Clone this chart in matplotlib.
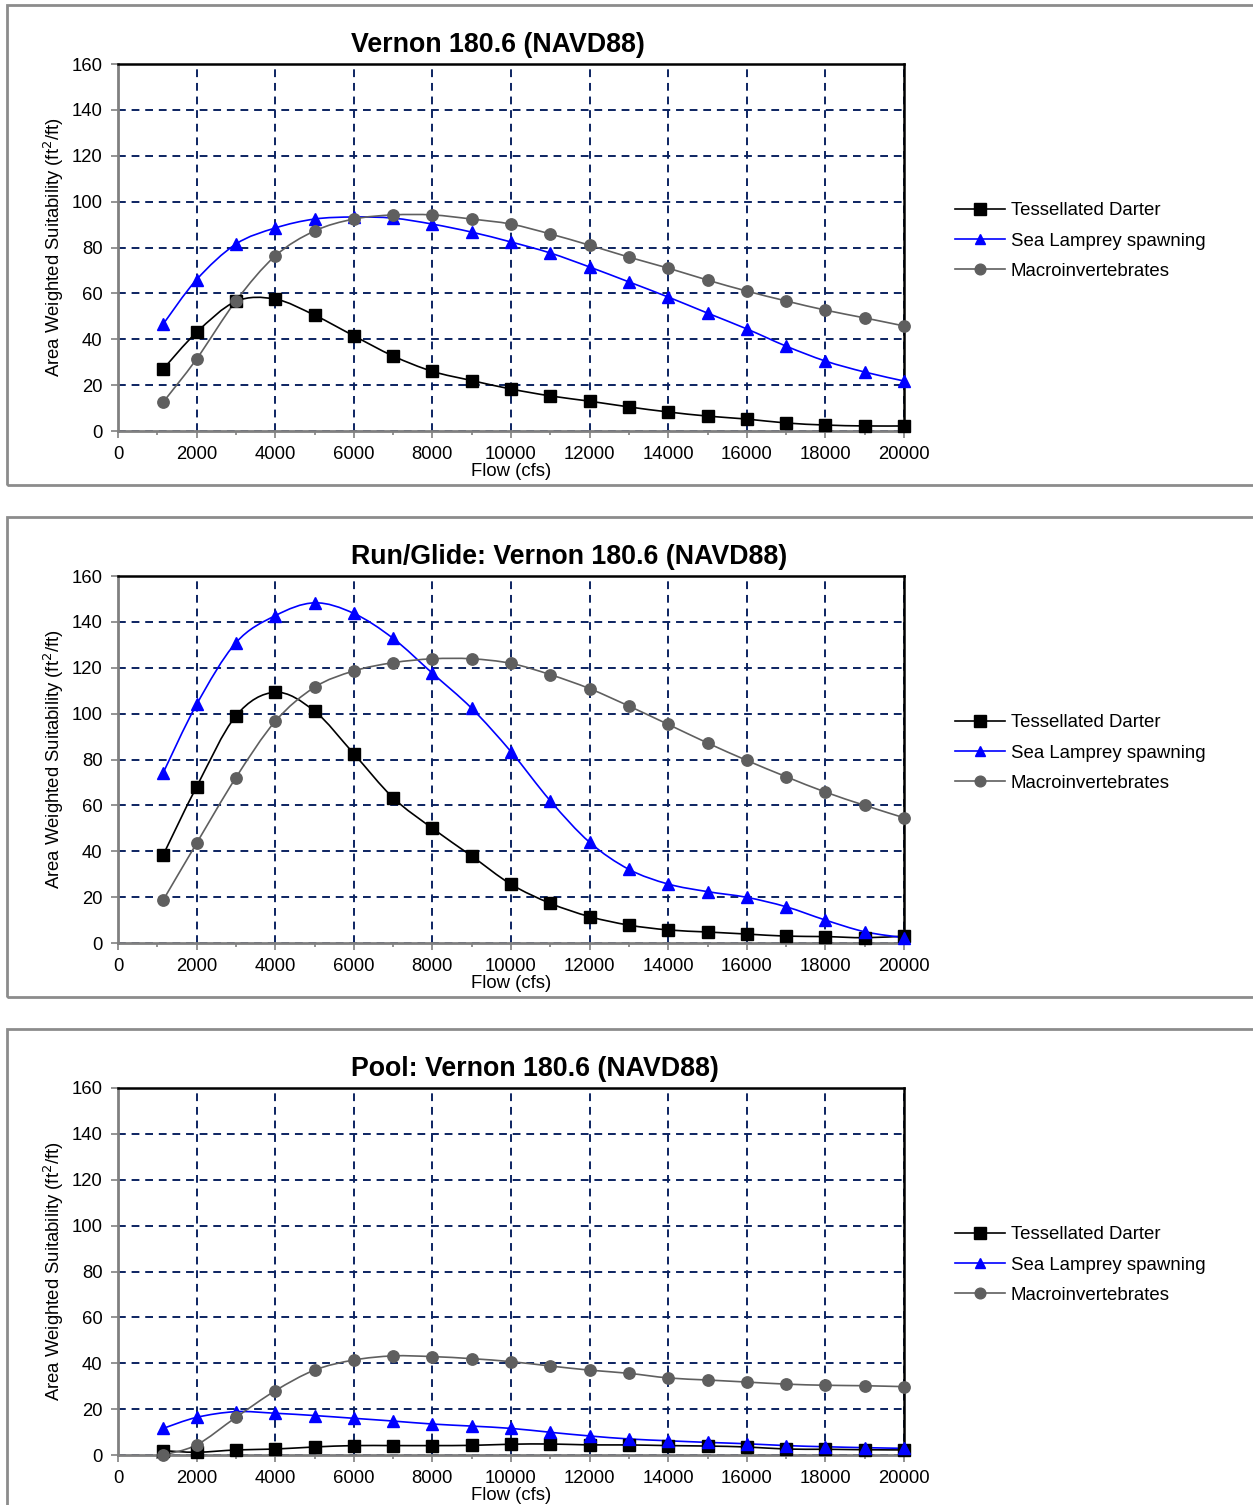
import numpy as np
import matplotlib
matplotlib.use("Agg")
import matplotlib.pyplot as plt
from matplotlib.path import Path
from matplotlib.patches import PathPatch, Rectangle
from matplotlib.lines import Line2D

plt.rcParams['font.family'] = ['Liberation Sans', 'DejaVu Sans']

flow = [1150, 2000, 3000, 4000, 5000, 6000, 7000, 8000, 9000, 10000,
        11000, 12000, 13000, 14000, 15000, 16000, 17000, 18000, 19000, 20000]

titles = ["Vernon 180.6 (NAVD88)",
          "Run/Glide: Vernon 180.6 (NAVD88)",
          "Pool: Vernon 180.6 (NAVD88)"]

series_names = ["Tessellated Darter", "Sea Lamprey spawning", "Macroinvertebrates"]

# Panel 1: Vernon 180.6
darter_1 = [27.0, 43.0, 56.5, 57.5, 50.5, 41.5, 32.7, 26.0, 22.0, 18.3,
            15.3, 13.0, 10.5, 8.3, 6.5, 5.2, 3.5, 2.6, 2.2, 2.2]
lamprey_1 = [46.6, 66.0, 81.5, 88.5, 92.4, 93.3, 92.8, 90.2, 86.7, 82.4,
             77.6, 71.5, 65.0, 58.4, 51.4, 44.5, 37.0, 30.5, 25.7, 21.8]
macro_1 = [12.6, 31.4, 56.7, 76.3, 87.2, 92.4, 94.2, 94.2, 92.4, 90.2,
           85.9, 81.0, 75.8, 71.0, 65.8, 61.0, 56.7, 52.7, 49.3, 45.8]

# Panel 2: Run/Glide
darter_2 = [38.4, 68.1, 99.0, 109.3, 101.1, 82.5, 63.3, 50.0, 37.9, 25.6,
            17.3, 11.5, 7.8, 5.7, 4.8, 3.9, 3.0, 2.8, 2.3, 3.0]
lamprey_2 = [74.2, 104.0, 130.9, 142.7, 148.3, 143.7, 132.8, 117.6, 102.3, 83.4,
             62.0, 43.9, 32.1, 25.7, 22.4, 19.9, 15.8, 10.0, 4.9, 2.3]
macro_2 = [18.7, 43.5, 72.1, 96.6, 111.5, 118.6, 122.2, 123.9, 123.9, 121.9,
           117.0, 110.9, 103.3, 95.3, 87.2, 79.6, 72.5, 65.8, 60.0, 54.6]

# Panel 3: Pool
darter_3 = [1.9, 1.2, 2.2, 2.6, 3.5, 4.1, 4.1, 4.1, 4.2, 4.7,
            4.8, 4.4, 4.4, 4.1, 3.9, 3.5, 2.6, 2.5, 2.3, 2.2]
lamprey_3 = [11.6, 16.4, 18.9, 18.2, 17.2, 16.0, 14.8, 13.5, 12.6, 11.6,
             9.9, 8.3, 7.0, 6.2, 5.5, 4.9, 4.1, 3.6, 3.2, 2.9]
macro_3 = [0.0, 4.4, 16.4, 28.0, 37.0, 41.4, 43.2, 42.9, 42.0, 40.7,
           38.8, 37.0, 35.6, 33.6, 32.7, 31.8, 30.9, 30.4, 30.2, 29.8]

panels = [(darter_1, lamprey_1, macro_1),
          (darter_2, lamprey_2, macro_2),
          (darter_3, lamprey_3, macro_3)]

colors = ["#000000", "#0000FF", "#5F5F5F"]
markers = ["s", "^", "o"]
msizes = [8.8, 8.2, 8.2]
grid_color = "#0C2461"

W, H = 1253, 1505
fig = plt.figure(figsize=(W / 100, H / 100), dpi=100)


def smooth_path(x, y):
    x = np.asarray(x, float)
    y = np.asarray(y, float)
    pts = np.column_stack([x, y])
    n = len(pts)
    verts = [pts[0]]
    codes = [Path.MOVETO]
    for i in range(n - 1):
        p0 = pts[i - 1] if i > 0 else pts[i]
        p1 = pts[i]
        p2 = pts[i + 1]
        p3 = pts[i + 2] if i + 2 < n else pts[i + 1]
        c1 = p1 + (p2 - p0) / 6.0
        c2 = p2 - (p3 - p1) / 6.0
        verts += [c1, c2, p2]
        codes += [Path.CURVE4] * 3
    return Path(verts, codes)


ax_tops = [64, 576, 1088]
ax_bottoms = [431, 943, 1455]
box_tops = [5, 517, 1029]
ax_left, ax_right = 118, 904
FS = 13.3

for k in range(3):
    # panel border
    bt = box_tops[k]
    fig.patches.append(Rectangle((7 / W, 1 - (bt + 480) / H), (W + 20) / W, 480 / H,
                                 transform=fig.transFigure, fill=False,
                                 edgecolor="#8C8C8C", linewidth=2.0, zorder=0))
    top, bot = ax_tops[k], ax_bottoms[k]
    ax = fig.add_axes([ax_left / W, 1 - bot / H, (ax_right - ax_left) / W, (bot - top) / H])
    ax.set_xlim(0, 20000)
    ax.set_ylim(0, 160)
    ax.set_xticks(np.arange(0, 20001, 2000))
    ax.set_xticks(np.arange(0, 20001, 1000), minor=True)
    ax.set_yticks(np.arange(0, 161, 20))
    ax.tick_params(axis='both', labelsize=FS, colors="#000000")
    ax.tick_params(axis='x', which='major', length=5, width=1.2, color="#808080", direction='out', pad=6)
    ax.tick_params(axis='x', which='minor', length=3, width=1.2, color="#808080", direction='out')
    ax.tick_params(axis='y', which='major', length=5, width=1.2, color="#808080", direction='out', pad=6)
    for side in ['left', 'bottom']:
        ax.spines[side].set_color("#808080")
        ax.spines[side].set_linewidth(2.0)
    for side in ['top', 'right']:
        ax.spines[side].set_color("#000000")
        ax.spines[side].set_linewidth(1.8)
    ax.grid(True, which='major', color=grid_color, linestyle=(0, (4, 3)), linewidth=1.4)
    ax.set_axisbelow(True)

    handles = []
    for s, (vals, c, m, ms) in enumerate(zip(panels[k], colors, markers, msizes)):
        patch = PathPatch(smooth_path(flow, vals), facecolor='none', edgecolor=c,
                          linewidth=1.2, zorder=3 + s, clip_on=False)
        ax.add_patch(patch)
        ax.plot(flow, vals, linestyle='none', marker=m, markersize=ms,
                color=c, markeredgecolor=c, zorder=6 + s, clip_on=False)
        handles.append(Line2D([], [], color=c, linewidth=1.2, marker=m, markersize=ms - 0.5))

    ax.set_xlabel("Flow (cfs)", fontsize=FS, labelpad=0)
    ax.set_ylabel("Area Weighted Suitability (ft$^2$/ft)", fontsize=FS, labelpad=4)
    fig.text(351 / W, 1 - (top - 19) / H, titles[k], fontsize=19.3, fontweight='bold',
             ha='left', va='center')
    ax.legend(handles, series_names, loc='center left',
              bbox_to_anchor=(955 / W, 1 - (top + 177) / H), bbox_transform=fig.transFigure,
              frameon=False, fontsize=13.4, handlelength=2.7, handletextpad=0.3,
              labelspacing=0.70, borderaxespad=0, borderpad=0)

fig.savefig("out.png", dpi=100)
